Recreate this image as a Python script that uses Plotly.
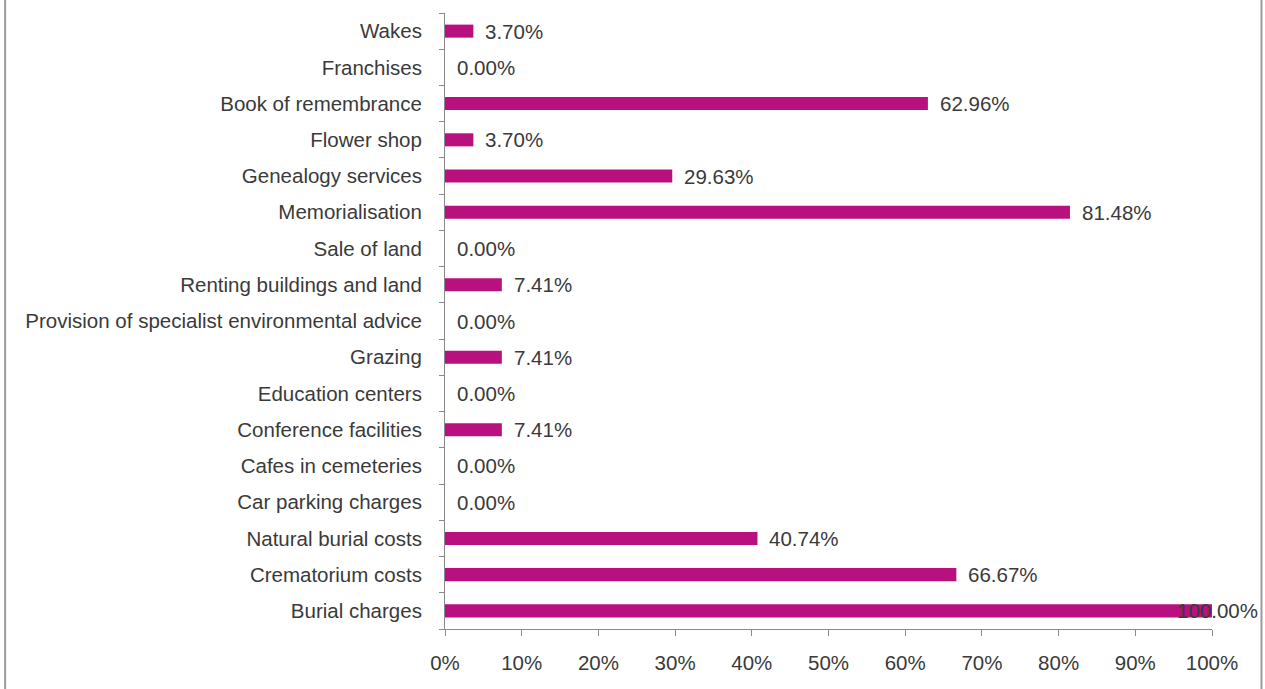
import plotly.graph_objects as go

# Income sources reported (share of respondents, %)
categories = [
    "Burial charges",
    "Crematorium costs",
    "Natural burial costs",
    "Car parking charges",
    "Cafes in cemeteries",
    "Conference facilities",
    "Education centers",
    "Grazing",
    "Provision of specialist environmental advice",
    "Renting buildings and land",
    "Sale of land",
    "Memorialisation",
    "Genealogy services",
    "Flower shop",
    "Book of remembrance",
    "Franchises",
    "Wakes",
]
values = [100.00, 66.67, 40.74, 0.00, 0.00, 7.41, 0.00, 7.41, 0.00, 7.41,
          0.00, 81.48, 29.63, 3.70, 62.96, 0.00, 3.70]
x_ticks = [0, 10, 20, 30, 40, 50, 60, 70, 80, 90, 100]
x_tick_labels = [f"{t}%" for t in x_ticks]

BAR = "#B8107E"
TEXT = "#3a3a3a"
AXIS = "#8a8a8a"
FONT = "Liberation Sans, Arial, sans-serif"
FS = 20.5

fig = go.Figure(go.Bar(
    x=values,
    y=categories,
    orientation="h",
    marker=dict(color=BAR, line=dict(width=0)),
    hoverinfo="skip",
))

# Value labels just past each bar end; the full-width bar keeps its label inside the frame
for cat, v in zip(categories, values):
    near_end = v >= 95
    fig.add_annotation(
        x=v, y=cat, xref="x", yref="y",
        text=f"{v:.2f}%",
        showarrow=False,
        xanchor="right" if near_end else "left",
        xshift=48 if near_end else 10,
        font=dict(family=FONT, size=FS, color=TEXT),
    )

# Chart frame: left and right edges
for xp in (-0.5735, 1.0645):
    fig.add_shape(type="line", xref="paper", yref="paper",
                  x0=xp, x1=xp, y0=-0.2, y1=1.1,
                  line=dict(color="#9a9a9a", width=2))

fig.update_layout(
    width=1265, height=689,
    margin=dict(l=445, r=53, t=13, b=60),
    paper_bgcolor="white",
    plot_bgcolor="white",
    bargap=0.64,
    showlegend=False,
    font=dict(family=FONT, size=FS, color=TEXT),
    xaxis=dict(
        range=[0, 100],
        tickvals=x_ticks,
        ticktext=x_tick_labels,
        showgrid=False,
        zeroline=False,
        showline=True,
        linecolor=AXIS,
        linewidth=1,
        ticks="outside",
        ticklen=6,
        tickcolor=AXIS,
        ticklabelstandoff=9,
        tickfont=dict(family=FONT, size=FS, color=TEXT),
        fixedrange=True,
    ),
    yaxis=dict(
        type="category",
        categoryorder="array",
        categoryarray=categories,
        showgrid=False,
        zeroline=False,
        showline=True,
        linecolor=AXIS,
        linewidth=1,
        ticks="outside",
        tickson="boundaries",
        ticklen=5,
        tickcolor=AXIS,
        ticklabelstandoff=18,
        tickfont=dict(family=FONT, size=FS, color=TEXT),
        fixedrange=True,
    ),
)

fig.write_html("out.html")
